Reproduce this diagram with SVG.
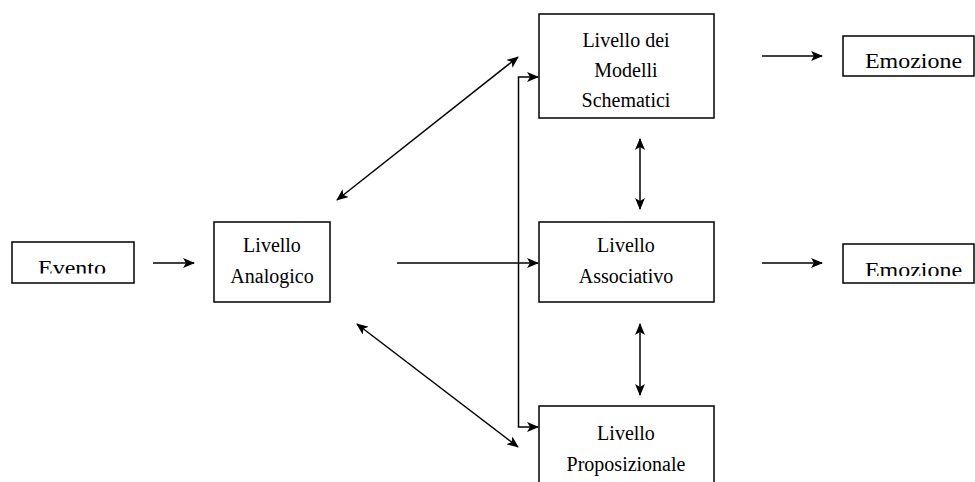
<svg xmlns="http://www.w3.org/2000/svg" width="975" height="482" viewBox="0 0 975 482">
  <style>
    .box { fill: #fff; stroke: #000; stroke-width: 1.5; }
    .lbl { font-family: "Liberation Serif", "Times New Roman", serif; font-size: 20px; fill: #000; text-anchor: middle; }
    .out { font-size: 21px; }
    .ln { fill: none; stroke: #000; stroke-width: 1.5; }
  </style>
  <defs>
    <marker id="head" viewBox="0 0 12 10" refX="11" refY="5" markerWidth="12" markerHeight="10" markerUnits="userSpaceOnUse" orient="auto-start-reverse">
      <path d="M0,0 L12,5 L0,10 L3,5 Z" fill="#000"/>
    </marker>
    <!-- text frames that cut off the bottom of their labels -->
    <clipPath id="clipEvento"><rect x="0" y="230" width="150" height="43.5"/></clipPath>
    <clipPath id="clipEmo2"><rect x="840" y="230" width="135" height="46"/></clipPath>
  </defs>

  <g id="evento">
    <rect class="box" x="12" y="242" width="122" height="41"/>
    <text class="lbl out" x="72" y="274.5" textLength="68" lengthAdjust="spacingAndGlyphs" clip-path="url(#clipEvento)">Evento</text>
  </g>

  <g id="analogico">
    <rect class="box" x="214" y="222" width="116" height="80"/>
    <text class="lbl" x="272" y="252">Livello</text>
    <text class="lbl" x="272" y="283">Analogico</text>
  </g>

  <g id="schematici">
    <rect class="box" x="539" y="14" width="175" height="104"/>
    <text class="lbl" x="626" y="47">Livello dei</text>
    <text class="lbl" x="626" y="77">Modelli</text>
    <text class="lbl" x="626" y="107">Schematici</text>
  </g>

  <g id="associativo">
    <rect class="box" x="539" y="222" width="175" height="80"/>
    <text class="lbl" x="626" y="252">Livello</text>
    <text class="lbl" x="626" y="283">Associativo</text>
  </g>

  <g id="proposizionale">
    <rect class="box" x="539" y="406" width="175" height="90"/>
    <text class="lbl" x="626" y="440">Livello</text>
    <text class="lbl" x="626" y="471">Proposizionale</text>
  </g>

  <g id="emozione1">
    <rect class="box" x="843" y="36" width="131" height="40"/>
    <text class="lbl out" x="913.5" y="68" textLength="97" lengthAdjust="spacingAndGlyphs">Emozione</text>
  </g>

  <g id="emozione2">
    <rect class="box" x="843" y="244" width="131" height="39"/>
    <text class="lbl out" x="913.5" y="277" textLength="97" lengthAdjust="spacingAndGlyphs" clip-path="url(#clipEmo2)">Emozione</text>
  </g>

  <g id="connectors">
    <line class="ln" x1="153" y1="263" x2="194" y2="263" marker-end="url(#head)"/>
    <line class="ln" x1="397" y1="263" x2="538" y2="263" marker-end="url(#head)"/>
    <polyline class="ln" points="518.5,263 518.5,77 538,77" marker-end="url(#head)"/>
    <polyline class="ln" points="518.5,263 518.5,427 538,427" marker-end="url(#head)"/>
    <line class="ln" x1="337" y1="200" x2="518" y2="57" marker-start="url(#head)" marker-end="url(#head)"/>
    <line class="ln" x1="357" y1="324" x2="518" y2="447" marker-start="url(#head)" marker-end="url(#head)"/>
    <line class="ln" x1="640" y1="139" x2="640" y2="209" marker-start="url(#head)" marker-end="url(#head)"/>
    <line class="ln" x1="640" y1="324" x2="640" y2="395" marker-start="url(#head)" marker-end="url(#head)"/>
    <line class="ln" x1="762" y1="56" x2="822" y2="56" marker-end="url(#head)"/>
    <line class="ln" x1="762" y1="263" x2="822" y2="263" marker-end="url(#head)"/>
  </g>
</svg>
